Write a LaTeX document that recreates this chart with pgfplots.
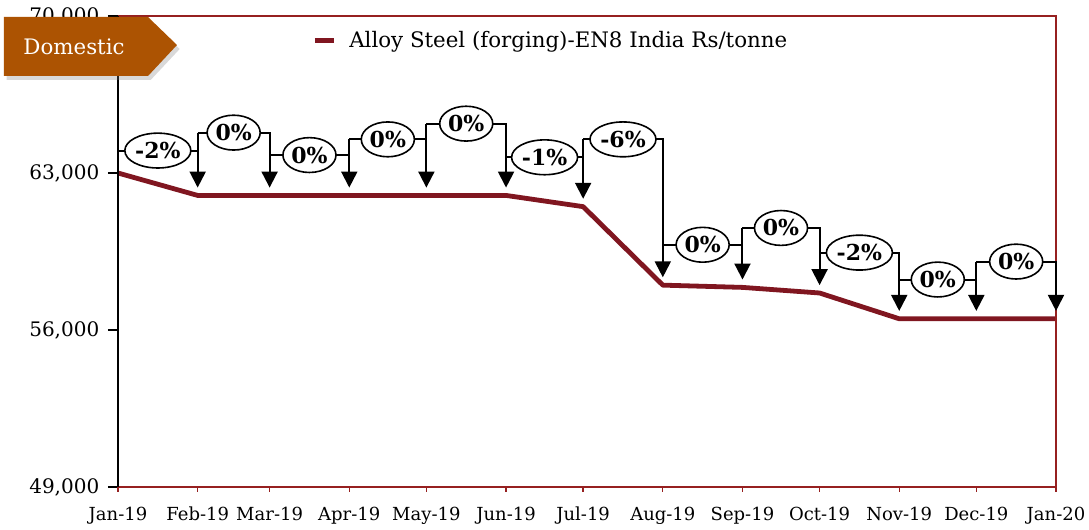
\documentclass[border=0pt]{standalone}
\usepackage{fontspec}
\setmainfont{DejaVu Serif}
\usepackage{pgfplots}
\pgfplotsset{compat=1.18}
\usetikzlibrary{arrows.meta,shapes.geometric,shadows}

\definecolor{steel}{RGB}{128,22,32}
\definecolor{framered}{RGB}{150,32,32}
\definecolor{tagbrown}{RGB}{172,83,2}

\begin{document}
\begin{tikzpicture}[
  conn/.style={black, line width=1.5pt},
  pct/.style={ellipse, draw=black, line width=1.2pt, fill=white,
              font=\fontsize{16.5}{18}\selectfont\bfseries,
              inner xsep=0.5pt, inner ysep=3pt},
]
\begin{axis}[
  at={(0,0)}, anchor=south west,
  width=703.5pt, height=353.25pt, scale only axis,
  clip=false,
  xmin=0, xmax=365, ymin=49000, ymax=70000,
  axis line style={draw=none},
  xtick={0,31,59,90,120,151,181,212,243,273,304,334,365},
  xticklabels={Jan-19,Feb-19,Mar-19,Apr-19,May-19,Jun-19,Jul-19,Aug-19,Sep-19,Oct-19,Nov-19,Dec-19,Jan-20},
  ytick={49000,56000,63000,70000},
  scaled y ticks=false,
  xtick pos=left, ytick pos=left,
  tick align=outside,
  major tick length=7.5pt,
  xtick style={draw=none},
  ytick style={black, line width=1pt},
  ticklabel style={font=\fontsize{13.5}{16}\selectfont},
  yticklabel style={font=\fontsize{15}{17}\selectfont, xshift=-3pt},
  xticklabel style={yshift=-4pt},
  /pgf/number format/.cd, fixed, 1000 sep={,}, assume math mode=true,
  /pgfplots/.cd,
  legend style={draw=none, fill=none, inner sep=0pt,
                at={(axis description cs:0.207,0.949)}, anchor=west,
                font=\fontsize{16}{18}\selectfont},
  legend image code/.code={\draw[line width=3.75pt, steel] (0pt,0pt) -- (14pt,0pt); \path (22pt,0pt);},
]
\addplot[steel, line width=3.6pt, line join=round] coordinates {
  (0,63000) (31,62000) (59,62000) (90,62000) (120,62000) (151,62000)
  (181,61500) (212,58000) (243,57900) (273,57650) (304,56500) (334,56500) (365,56500)
};
\addlegendentry{Alloy Steel (forging)-EN8 India Rs/tonne}

% x ticks
\foreach \x in {0,31,59,90,120,151,181,212,243,273,304,334,365}{
  \edef\temp{\noexpand\draw[framered, line width=1pt] (axis cs:\x,49000) -- ++(0pt,-4pt);}
  \temp
}

% frame
\draw[framered, line width=1.2pt] (rel axis cs:0,0) -- (rel axis cs:1,0) -- (rel axis cs:1,1) -- (rel axis cs:0,1);
\draw[black, line width=1.2pt] (rel axis cs:0,0) -- (rel axis cs:0,1);

% month-on-month change brackets
\draw[conn] (axis cs:0,64450) -- (axis cs:0,63580);
\foreach \xa/\xb/\hp/\h/\yb/\lab in {
  0/31/64000/64000/62000/-2\%,
  31/59/64000/64800/62000/0\%,
  59/90/64800/63800/62000/0\%,
  90/120/63800/64500/62000/0\%,
  120/151/64500/65200/62000/0\%,
  151/181/65200/63700/61500/-1\%,
  181/212/63700/64500/58000/-6\%,
  212/243/64500/59800/57900/0\%,
  243/273/59800/60550/57650/0\%,
  273/304/60550/59450/56500/-2\%,
  304/334/59450/58250/56500/0\%,
  334/365/58250/59050/56500/0\%}{
  \edef\tip{\the\numexpr\yb+350\relax}
  \edef\temp{%
    \noexpand\draw[conn] (axis cs:\xa,\hp) -- (axis cs:\xa,\h);
    \noexpand\draw[conn, -{Triangle[width=12pt,length=12pt]}] (axis cs:\xa,\h) -- (axis cs:\xb,\h) -- (axis cs:\xb,\tip);
    \noexpand\node[pct] at (axis cs:{(\xa+\xb)/2},\h) {\lab};
  }
  \temp
}
\end{axis}

% tag
\fill[tagbrown, drop shadow={shadow xshift=2pt, shadow yshift=-3pt, opacity=0.3}]
  (-85.5pt,352.5pt) -- (22.5pt,352.5pt) -- (44.25pt,331.5pt) -- (22.5pt,308.25pt) -- (-85.5pt,308.25pt) -- cycle;
\node[white, font=\fontsize{16}{18}\selectfont] at (-33pt,330pt) {Domestic};

\pgfresetboundingbox
\path[use as bounding box] (-88.5pt,-31.5pt) rectangle (728.25pt,365.25pt);
\end{tikzpicture}
\end{document}
